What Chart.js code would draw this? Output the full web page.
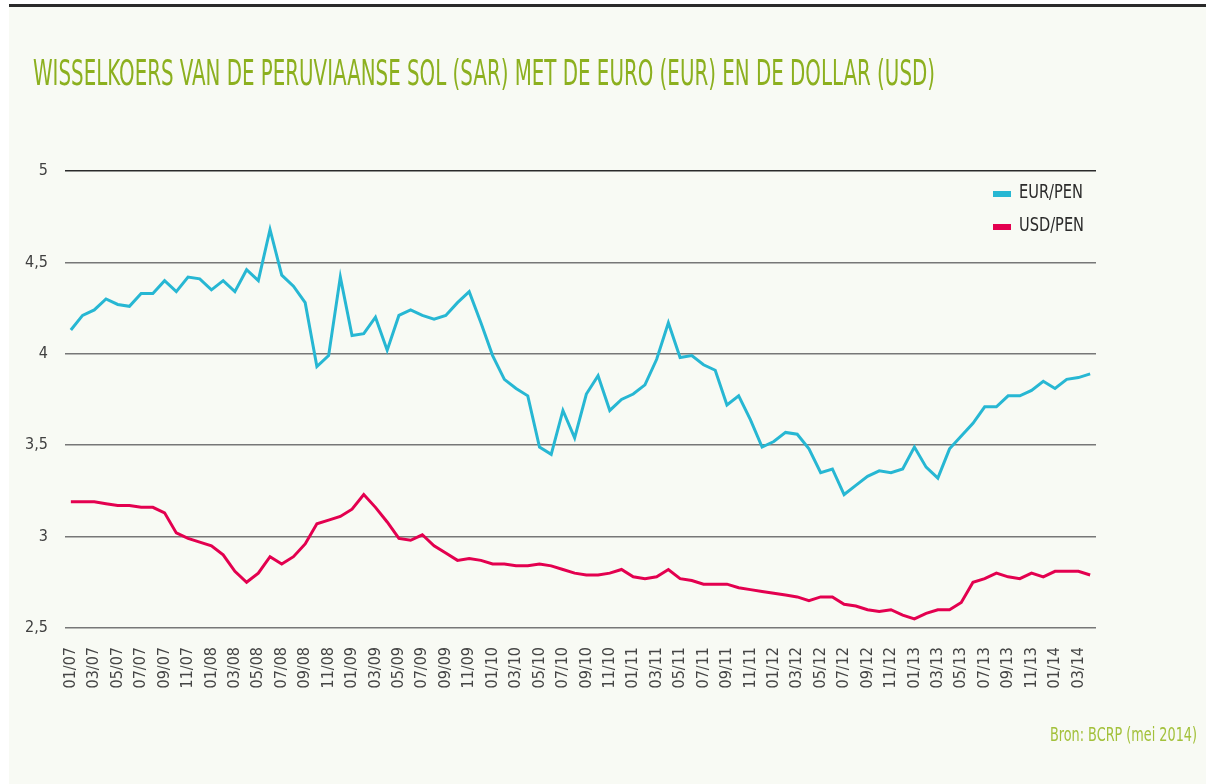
<!DOCTYPE html>
<html>
<head>
<meta charset="utf-8">
<script src="https://cdn.jsdelivr.net/npm/chart.js@4.4.1/dist/chart.umd.min.js"></script>
<style>
  html, body { margin: 0; padding: 0; background: #fff; }
  #page { position: relative; width: 1206px; height: 784px; overflow: hidden; background: #fff; }
  #panel { position: absolute; left: 9px; top: 4px; width: 1197px; height: 780px; background: #f8faf4; border-top: 3px solid #2a2a2a; box-sizing: border-box; }
  #chart { position: absolute; left: 0; top: 0; }
  .cond { font-family: 'Liberation Sans Narrow', 'DejaVu Sans Condensed', 'Roboto', sans-serif; white-space: nowrap; position: absolute; transform-origin: left top; }
  #title { left: 33px; top: 53px; font-size: 35px; color: #8cb01f; }
  #source { top: 722px; font-size: 20px; color: #a3c13b; }
  .leg { font-size: 19px; color: #2b2b2b; }
  .legbox { position: absolute; width: 18px; height: 6px; }
</style>
</head>
<body>
<div id="page">
  <div id="panel"></div>
  <canvas id="chart" width="1206" height="784"></canvas>
  <div id="title" class="cond">WISSELKOERS VAN DE PERUVIAANSE SOL (SAR) MET DE EURO (EUR) EN DE DOLLAR (USD)</div>
  <div id="source" class="cond">Bron: BCRP (mei 2014)</div>
  <div id="legend"></div>
</div>
<script>
// monthly series, 01/07 .. 04/14
const seriesNames = ['EUR/PEN', 'USD/PEN'];
const seriesColors = ['#27b7d3', '#e3004f'];

const eurPen = [
  4.13, 4.21, 4.24, 4.30, 4.27, 4.26, 4.33, 4.33, 4.40, 4.34, 4.42, 4.41,
  4.35, 4.40, 4.34, 4.46, 4.40, 4.68, 4.43, 4.37, 4.28, 3.93, 3.99, 4.42,
  4.10, 4.11, 4.20, 4.02, 4.21, 4.24, 4.21, 4.19, 4.21, 4.28, 4.34, 4.17,
  3.99, 3.86, 3.81, 3.77, 3.49, 3.45, 3.69, 3.54, 3.78, 3.88, 3.69, 3.75,
  3.78, 3.83, 3.97, 4.17, 3.98, 3.99, 3.94, 3.91, 3.72, 3.77, 3.64, 3.49,
  3.52, 3.57, 3.56, 3.48, 3.35, 3.37, 3.23, 3.28, 3.33, 3.36, 3.35, 3.37,
  3.49, 3.38, 3.32, 3.48, 3.55, 3.62, 3.71, 3.71, 3.77, 3.77, 3.80, 3.85,
  3.81, 3.86, 3.87, 3.89
];

const usdPen = [
  3.19, 3.19, 3.19, 3.18, 3.17, 3.17, 3.16, 3.16, 3.13, 3.02, 2.99, 2.97,
  2.95, 2.90, 2.81, 2.75, 2.80, 2.89, 2.85, 2.89, 2.96, 3.07, 3.09, 3.11,
  3.15, 3.23, 3.16, 3.08, 2.99, 2.98, 3.01, 2.95, 2.91, 2.87, 2.88, 2.87,
  2.85, 2.85, 2.84, 2.84, 2.85, 2.84, 2.82, 2.80, 2.79, 2.79, 2.80, 2.82,
  2.78, 2.77, 2.78, 2.82, 2.77, 2.76, 2.74, 2.74, 2.74, 2.72, 2.71, 2.70,
  2.69, 2.68, 2.67, 2.65, 2.67, 2.67, 2.63, 2.62, 2.60, 2.59, 2.60, 2.57,
  2.55, 2.58, 2.60, 2.60, 2.64, 2.75, 2.77, 2.80, 2.78, 2.77, 2.80, 2.78,
  2.81, 2.81, 2.81, 2.79
];

const yTicks = [2.5, 3, 3.5, 4, 4.5, 5];

// mm/yy labels, one per month
const monthLabels = [];
for (let y = 7; y <= 14; y++) {
  for (let m = 1; m <= 12; m++) {
    if (monthLabels.length >= eurPen.length) break;
    monthLabels.push(String(m).padStart(2, '0') + '/' + String(y).padStart(2, '0'));
  }
}

const condFont = "'Liberation Sans Narrow', 'DejaVu Sans Condensed', 'Roboto', sans-serif";

const ctx = document.getElementById('chart').getContext('2d');
const chart = new Chart(ctx, {
  type: 'line',
  data: {
    labels: monthLabels,
    datasets: [
      { label: seriesNames[0], data: eurPen, borderColor: seriesColors[0], backgroundColor: seriesColors[0] },
      { label: seriesNames[1], data: usdPen, borderColor: seriesColors[1], backgroundColor: seriesColors[1] }
    ]
  },
  options: {
    responsive: false,
    animation: false,
    devicePixelRatio: 1,
    layout: { padding: { top: 171, right: 110, bottom: 0, left: 0 } },
    elements: {
      line: { borderWidth: 3, tension: 0, borderJoinStyle: 'miter' },
      point: { radius: 0 }
    },
    scales: {
      x: {
        type: 'category',
        offset: true,
        grid: { display: false, drawTicks: false },
        border: { display: false },
        afterFit: scale => { scale.height = 156; },
        ticks: {
          autoSkip: false,
          minRotation: 90,
          maxRotation: 90,
          padding: 19,
          color: '#454545',
          font: { family: condFont, size: 16 },
          callback: function (val, i) { return i % 2 === 0 ? this.getLabelForValue(val) : null; }
        }
      },
      y: {
        min: 2.5,
        max: 5,
        afterFit: scale => { scale.width = 65; },
        afterBuildTicks: scale => { scale.ticks = yTicks.map(v => ({ value: v })); },
        border: { display: false },
        grid: {
          drawTicks: false,
          lineWidth: 1.5,
          color: c => (c.tick && c.tick.value === 5) ? '#2a2a2a' : '#777'
        },
        ticks: {
          padding: 17,
          color: '#404040',
          font: { family: condFont, size: 16 },
          callback: v => String(v).replace('.', ',')
        }
      }
    },
    plugins: {
      legend: { display: false },
      tooltip: { enabled: false }
    }
  }
});

// legend built from the datasets
const legend = document.getElementById('legend');
chart.data.datasets.forEach((ds, i) => {
  const top = 191 + i * 33;
  const box = document.createElement('div');
  box.className = 'legbox';
  box.style.left = '993px';
  box.style.top = top + 'px';
  box.style.background = ds.borderColor;
  legend.appendChild(box);
  const txt = document.createElement('div');
  txt.className = 'cond leg';
  txt.textContent = ds.label;
  txt.style.left = '1019px';
  txt.style.top = (top - 11) + 'px';
  legend.appendChild(txt);
});

// squeeze condensed texts to the widths in the original
function fitWidth(el, w, rightEdge) {
  const s = w / el.getBoundingClientRect().width;
  el.style.transform = 'scaleX(' + s + ')';
  if (rightEdge) el.style.left = (rightEdge - w) + 'px';
}
fitWidth(document.getElementById('title'), 902);
fitWidth(document.getElementById('source'), 147, 1197);
document.querySelectorAll('.leg').forEach((el, i) => fitWidth(el, i === 0 ? 64 : 65));
</script>
</body>
</html>
